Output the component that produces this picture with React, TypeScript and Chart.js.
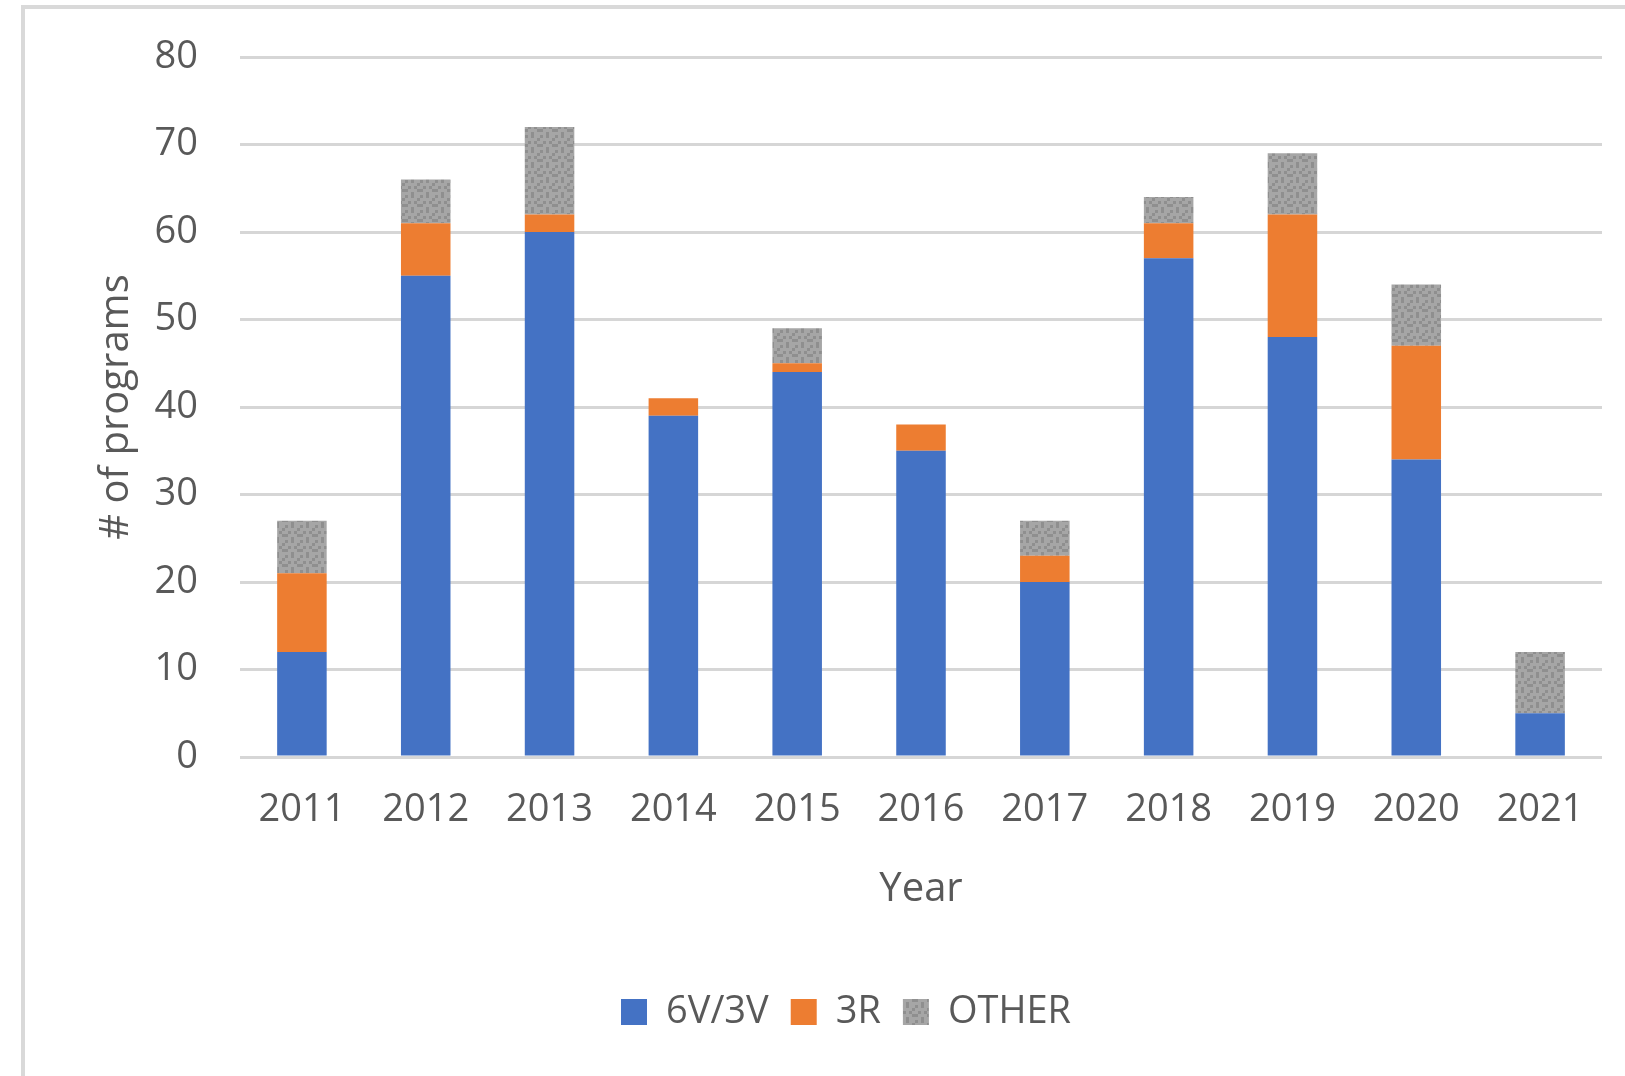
import React, { useEffect, useRef } from "react";
import { Chart, registerables } from "chart.js";

Chart.register(...registerables);

// ---- Data ----
const years = ["2011", "2012", "2013", "2014", "2015", "2016", "2017", "2018", "2019", "2020", "2021"];
const series6V3V = [12, 55, 60, 39, 44, 35, 20, 57, 48, 34, 5];
const series3R = [9, 6, 2, 2, 1, 3, 3, 4, 14, 13, 0];
const seriesOther = [6, 5, 10, 0, 4, 0, 4, 3, 7, 7, 7];
const seriesNames = ["6V/3V", "3R", "OTHER"];
const yAxisMax = 80;
const yAxisStep = 10;
const xTitle = "Year";
const yTitle = "# of programs";

const TEXT = "#595959";
const FONT = "'Open Sans', 'Noto Sans', sans-serif";

function makeGreyPattern(): CanvasPattern | string {
  const c = document.createElement("canvas");
  const cell = 3;
  const n = 5;
  c.width = cell * n;
  c.height = cell * n;
  const g = c.getContext("2d");
  if (!g) return "#a5a5a5";
  g.fillStyle = "#a6a6a6";
  g.fillRect(0, 0, c.width, c.height);
  g.fillStyle = "#8f8f8f";
  const dots = [
    [0, 0], [2, 0], [4, 1], [1, 2], [3, 2], [0, 3], [2, 4], [4, 3],
  ];
  dots.forEach(([x, y]) => g.fillRect(x * cell, y * cell, cell, cell));
  const p = g.createPattern(c, "repeat");
  return p || "#a5a5a5";
}

export default function App() {
  const ref = useRef<HTMLCanvasElement | null>(null);

  useEffect(() => {
    if (!ref.current) return;
    const grey = makeGreyPattern();
    const chart = new Chart(ref.current, {
      type: "bar",
      data: {
        labels: years,
        datasets: [
          { label: seriesNames[0], data: series6V3V, backgroundColor: "#4472c4", borderWidth: 0 },
          { label: seriesNames[1], data: series3R, backgroundColor: "#ed7d31", borderWidth: 0 },
          { label: seriesNames[2], data: seriesOther, backgroundColor: grey as any, borderWidth: 0 },
        ],
      },
      options: {
        responsive: false,
        animation: false,
        devicePixelRatio: 1,
        datasets: { bar: { categoryPercentage: 1, barPercentage: 0.4 } },
        layout: { padding: { left: 90, right: 23, top: 57, bottom: 35 } },
        plugins: {
          tooltip: { enabled: false },
          legend: {
            position: "bottom",
            labels: {
              font: { family: FONT, size: 38 },
              color: TEXT,
              boxWidth: 26,
              boxHeight: 26,
              padding: 22,
            },
          },
        },
        scales: {
          x: {
            stacked: true,
            grid: { display: false, drawTicks: false },
            border: { display: false },
            ticks: { font: { family: FONT, size: 38 }, color: TEXT, padding: 30, maxRotation: 0 },
            title: {
              display: true,
              text: xTitle,
              font: { family: FONT, size: 40 },
              color: TEXT,
              padding: { top: 0, bottom: 57 },
            },
            afterFit: (scale: any) => {
              scale.height = 214;
            },
          },
          y: {
            stacked: true,
            min: 0,
            max: yAxisMax,
            grid: {
              color: "#d6d6d6",
              lineWidth: 3,
              drawTicks: true,
              tickLength: 42,
              tickColor: "rgba(0,0,0,0)",
            },
            border: { display: false },
            ticks: { stepSize: yAxisStep, font: { family: FONT, size: 38 }, color: TEXT, padding: 0 },
            title: {
              display: true,
              text: yTitle,
              font: { family: FONT, size: 40 },
              color: TEXT,
              padding: { top: 3, bottom: 0 },
            },
            afterFit: (scale: any) => {
              scale.width = 150;
            },
          },
        },
      },
    });
    return () => chart.destroy();
  }, []);

  return (
    <div style={{ position: "fixed", left: 0, top: 0, width: 1625, height: 1076, background: "#fff" }}>
      <div
        style={{
          position: "absolute",
          left: 21,
          top: 5,
          right: 0,
          bottom: 0,
          borderTop: "4px solid #d9d9d9",
          borderLeft: "4px solid #d9d9d9",
        }}
      />
      <canvas
        ref={ref}
        width={1625}
        height={1076}
        style={{ position: "absolute", left: 0, top: 0, width: 1625, height: 1076 }}
      />
    </div>
  );
}
